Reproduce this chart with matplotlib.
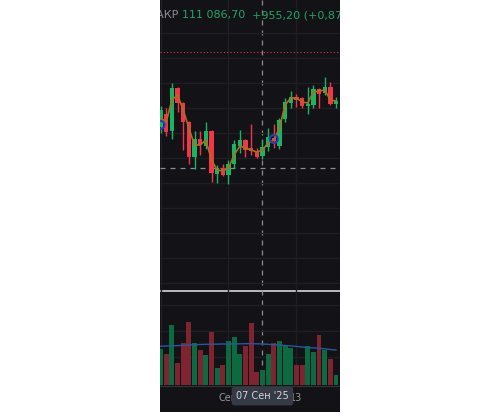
import pandas as pd
import matplotlib
matplotlib.use('Agg')
import matplotlib.pyplot as plt

# daily BTC candles, 20 Aug - 20 Sep 2025
dates = pd.date_range('2025-08-20', periods=32, freq='D')
opens = [113050, 114350, 112650, 116950, 115450, 113550, 110050, 111850,
         111150, 112650, 108350, 108950, 108250, 109350, 111150, 111750,
         110950, 110650, 110131.5, 111050, 111950, 111150, 113850, 115450,
         116050, 115950, 115150, 115250, 116850, 116450, 117050, 115350]
highs = [115150, 114950, 117450, 117050, 115550, 113650, 112650, 112650,
         113550, 112750, 109250, 109350, 109750, 111750, 112750, 111850,
         113350, 110950, 111850, 112950, 113350, 113950, 115950, 116650,
         116350, 116050, 117050, 117250, 116950, 118050, 117550, 116050]
lows = [112450, 112150, 111850, 114550, 110750, 109350, 108850, 110250,
        110850, 107550, 107450, 108150, 107350, 108950, 110450, 110050,
        110250, 109950, 109850, 110650, 110950, 110850, 113550, 114950,
        115050, 114950, 114350, 114950, 114950, 116250, 115250, 114950]
closes = [114750, 112550, 116950, 115450, 113550, 110050, 111850, 111250,
          112650, 108450, 108950, 108250, 109350, 111350, 111750, 110750,
          110650, 110050, 111086.7, 112050, 111650, 113750, 115550, 116050,
          115750, 115150, 115350, 116850, 116350, 117050, 115350, 115650]
ma_line = [113950, 113550, 115750, 116250, 114750, 112950, 111250, 111250,
           111750, 109750, 108750, 108650, 108950, 110250, 111150, 110950,
           110750, 110550, 110750, 111450, 111750, 112950, 115250, 115950,
           115950, 115550, 115450, 116550, 116650, 116750, 115750, 115650]
volumes = [36, 31, 60, 22, 42, 63, 42, 35, 30, 53, 17, 20, 44, 48, 31, 39,
           62, 13, 15, 31, 42, 44, 40, 37, 20, 20, 39, 33, 50, 35, 26, 10]
vol_ma = [38.7, 39, 39.2, 39.4, 39.7, 40, 40.3, 40.5, 40.7, 40.8, 40.9, 41,
          41, 41.1, 41.2, 41.3, 41.3, 41.2, 41, 40.7, 40.3, 39.9, 39.5, 39.1,
          38.6, 38, 37.5, 37.1, 36.8, 36.2, 35.5, 35]
marker_idx = [0, 20]
marker_price = [113250, 111850]
high_line = 120550
cross_idx = 18
cross_price = 108950
time_labels = {12: 'Сен', 24: '13'}

BG = '#131216'
GRID = '#1f1e23'
UP, DOWN = '#18b462', '#f23645'
VUP, VDOWN = '#0b6a40', '#7e2330'

W, H = 503, 417


def box(x0, y0, x1, y1):
    return [x0 / W, 1 - y1 / H, (x1 - x0) / W, (y1 - y0) / H]


fig = plt.figure(figsize=(5.03, 4.17), dpi=100, facecolor='white')
xlim = (-0.1, 31.7)

# dark panel behind both panes
ax_bg = fig.add_axes(box(160, 0, 340, 412))
ax_bg.set_facecolor(BG)
ax_bg.set_xlim(*xlim)
ax_bg.set_ylim(412, 0)
ax_bg.set_xticks([])
ax_bg.set_yticks([])
for s in ax_bg.spines.values():
    s.set_visible(False)

# price pane
ax = fig.add_axes(box(160, 0, 340, 291))
ax.set_facecolor('none')
ax.set_xlim(*xlim)
ax.set_ylim(96650, 125750)
ax.set_yticks(range(97500, 123000, 2500))
ax.set_xticks([0, 12, 24])
ax.grid(True, color=GRID, lw=1)
ax.tick_params(length=0, labelbottom=False, labelleft=False)
for s in ax.spines.values():
    s.set_visible(False)

cols = [UP if c >= o else DOWN for o, c in zip(opens, closes)]
x = list(range(len(opens)))
ax.vlines(x, lows, highs, colors=cols, lw=1, zorder=3)
bottoms = [min(o, c) for o, c in zip(opens, closes)]
heights = [max(abs(c - o), 100) for o, c in zip(opens, closes)]
ax.bar(x, heights, bottom=bottoms, width=0.78, color=cols, zorder=4)
ax.plot(x, ma_line, color='#a8701f', lw=1.2, zorder=5)
ax.scatter(marker_idx, marker_price, s=34, facecolors='none',
           edgecolors='#2a3ab8', linewidths=1.5, zorder=6)
ax.axhline(high_line, color='#e5323f', lw=0.8, ls=(0, (1, 2)), zorder=2)
ax.axhline(cross_price, color='#8c8c92', lw=0.9, ls=(0, (4, 4)), zorder=2)

ax.text(0.106, 0.948, 'ЗАКР', transform=ax.transAxes, ha='right', va='center',
        color='#8a8d96', fontsize=8, clip_on=True)
ax.text(0.122, 0.948, '111 086,70', transform=ax.transAxes, ha='left',
        va='center', color='#22a565', fontsize=8, clip_on=True)
ax.text(0.511, 0.948, '+955,20 (+0,87%)', transform=ax.transAxes, ha='left',
        va='center', color='#22a565', fontsize=8, clip_on=True)

# volume pane
axv = fig.add_axes(box(160, 291, 340, 385))
axv.set_facecolor('none')
axv.set_xlim(*xlim)
axv.set_ylim(0, 94)
axv.set_yticks([28, 54, 80])
axv.set_xticks([0, 12, 24])
axv.grid(True, color=GRID, lw=1)
axv.tick_params(length=0, labelbottom=False, labelleft=False)
for s in axv.spines.values():
    s.set_visible(False)
vcols = [VUP if c >= o else VDOWN for o, c in zip(opens, closes)]
axv.bar(x, volumes, width=0.86, color=vcols, zorder=3)
axv.plot(x, vol_ma, color='#245a9c', lw=1, zorder=4)

# separator, baseline, crosshair and time axis
ax_bg.axhline(291, color='#d8d8d8', lw=1.2)
ax_bg.axhline(385.5, color='#34343a', lw=0.8)
ax_bg.vlines(cross_idx, 0, 387, colors='#8c8c92', lw=0.9, linestyles=(0, (4, 4)))
for i, lab in time_labels.items():
    ax_bg.text(i, 398, lab, ha='center', va='center', color='#9598a1',
               fontsize=7, zorder=3)
ax_bg.text(cross_idx, 396, dates[cross_idx].strftime('%d') + " Сен '25",
           ha='center', va='center', color='#d1d4dc', fontsize=7, zorder=5,
           bbox=dict(boxstyle='round,pad=0.45,rounding_size=0.25',
                     fc='#363a45', ec='none'))

fig.savefig('out.png', dpi=100, facecolor='white')
